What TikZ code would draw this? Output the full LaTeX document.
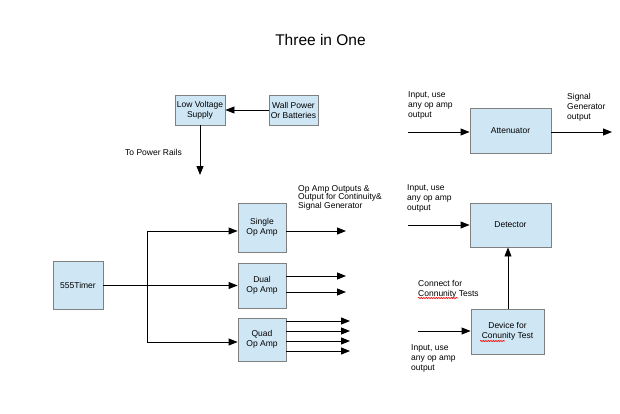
\documentclass[tikz,border=0pt]{standalone}
\usepackage{fontspec}
\setmainfont{Liberation Sans}
\usetikzlibrary{arrows.meta,decorations.pathmorphing}
\definecolor{boxblue}{RGB}{207,231,245}
\definecolor{boxgray}{RGB}{128,128,128}
\begin{document}
\begin{tikzpicture}[x=1pt,y=-1pt,
  box/.style={draw=boxgray, fill=boxblue, line width=0.9pt, align=center, inner sep=0pt,
              font=\fontsize{8.5}{10}\selectfont},
  arr/.style={line width=0.9pt, -{Triangle[length=9pt,width=7pt]}},
  ln/.style={line width=0.9pt},
  lbl/.style={align=left, anchor=north west, inner sep=0pt, font=\fontsize{8.5}{10}\selectfont},
  squig/.style={red, line width=0.6pt, decorate, decoration={snake, amplitude=0.6pt, segment length=2.5pt}}]
\useasboundingbox (0,0) rectangle (620,414);
\fill[white] (0,0) rectangle (620,414);

% title
\node[inner sep=0pt, font=\fontsize{15.5}{18}\selectfont] (title) at (320.5,40) {Three in One};

% boxes
\node[box, minimum width=50pt, minimum height=30pt] (lv) at (200,110) {Low Voltage\\Supply};
\node[box, minimum width=49pt, minimum height=30pt] (wp) at (293.5,110) {Wall Power\\Or Batteries};
\node[box, minimum width=50pt, minimum height=48pt] (timer) at (78,285.5) {555Timer};
\node[box, minimum width=48pt, minimum height=49pt] (single) at (262,227.5) {Single\\Op Amp};
\node[box, minimum width=48pt, minimum height=45pt] (dual) at (262,285.5) {Dual\\Op Amp};
\node[box, minimum width=48pt, minimum height=43pt] (quad) at (262,339.5) {Quad\\Op Amp};
\node[box, minimum width=81pt, minimum height=45pt] (att) at (510.5,130.5) {Attenuator};
\node[box, minimum width=81pt, minimum height=44pt] (det) at (510.5,225) {Detector};
\node[box, minimum width=73pt, minimum height=45pt] (dev) at (507.5,331.5) {Device for\\Conunity Test};

% power
\draw[arr] (wp.west) -- (lv.east);
\coordinate (rails) at (200,175);
\draw[arr] (lv.south) -- (rails);
\node[inner sep=0pt, anchor=west, font=\fontsize{8.5}{10}\selectfont] (railstxt) at (125,152) {To Power Rails};

% timer distribution
\coordinate (ttop) at (147,231);
\coordinate (tbot) at (147,342);
\draw[arr] (timer.east) -- (timer.east -| dual.west);
\draw[ln] (ttop) -- (tbot);
\draw[arr] (ttop) -- (ttop -| single.west);
\draw[arr] (tbot) -- (tbot -| quad.west);

% outputs
\coordinate (so) at (346,231);
\draw[arr] (single.east |- so) -- (so);
\coordinate (do1) at (346,276);
\coordinate (do2) at (346,292);
\draw[arr] (dual.east |- do1) -- (do1);
\draw[arr] (dual.east |- do2) -- (do2);
\coordinate (qo1) at (350,321);
\coordinate (qo2) at (350,331);
\coordinate (qo3) at (350,341);
\coordinate (qo4) at (350,351);
\draw[arr] (quad.east |- qo1) -- (qo1);
\draw[arr] (quad.east |- qo2) -- (qo2);
\draw[arr] (quad.east |- qo3) -- (qo3);
\draw[arr] (quad.east |- qo4) -- (qo4);
\node[lbl, font=\fontsize{8.5}{8.5}\selectfont] (optxt) at (298,185) {Op Amp Outputs \&\\Output for Continuity\&\\Signal Generator};

% right side
\coordinate (ain) at (408,132);
\coordinate (aout) at (612,132);
\draw[arr] (ain) -- (ain -| att.west);
\draw[arr] (att.east |- aout) -- (aout);
\node[lbl] (aintxt) at (408,91) {Input, use\\any op amp\\output};
\node[lbl] (aouttxt) at (567,93) {Signal\\Generator\\output};

\coordinate (din) at (408,225);
\draw[arr] (din) -- (det.west);
\node[lbl] (dintxt) at (407,184) {Input, use\\any op amp\\output};

\draw[arr] (dev.north -| 508,0) -- (det.south -| 508,0);
\node[lbl] (ctxt) at (418,280) {Connect for\\Connunity Tests};

\coordinate (vin) at (418,331);
\draw[arr] (vin) -- (vin -| dev.west);
\node[lbl] (vintxt) at (411,344) {Input, use\\any op amp\\output};

% spell-check marks
\draw[squig] (418,298) -- (458,298);
\draw[squig] (480,341) -- (505,341);
\end{tikzpicture}
\end{document}
